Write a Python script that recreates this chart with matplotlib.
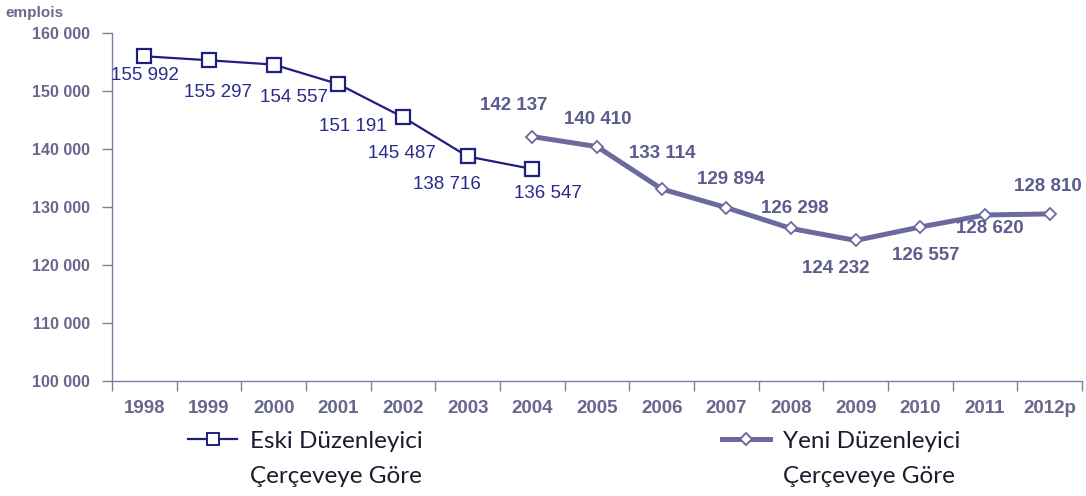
import matplotlib.pyplot as plt
from matplotlib.lines import Line2D
import numpy as np

# categories and values
years = ["1998", "1999", "2000", "2001", "2002", "2003", "2004",
         "2005", "2006", "2007", "2008", "2009", "2010", "2011", "2012p"]
old_years = years[:7]
old_vals = [155992, 155297, 154557, 151191, 145487, 138716, 136547]
new_years = years[6:]
new_vals = [142137, 140410, 133114, 129894, 126298, 124232, 126557, 128620, 128810]

# label offsets in pixels (dx, dy up)
old_off = [(1, -19), (9, -32), (20, -33), (14, -42), (-1, -36), (-21, -28), (16, -24)]
new_off = [(-19, 31), (1, 27), (1, 35), (4, 28), (4, 20), (-20, -28), (5, -29), (5, -13), (-2, 27)]

yticks = [100000, 110000, 120000, 130000, 140000, 150000, 160000]

OLD_C = '#1f1f7f'
NEW_C = '#6a6a9e'
TICK_C = '#68688e'
AX_C = '#7d7da3'

plt.rcParams['font.family'] = ['Liberation Sans', 'DejaVu Sans']

fig = plt.figure(figsize=(10.86, 4.96), dpi=100)
ax = fig.add_axes([112 / 1086, 1 - 381 / 496, (1082 - 112) / 1086, (381 - 33) / 496])

xpos = {y: i for i, y in enumerate(years)}
ox = [xpos[y] for y in old_years]
nx = [xpos[y] for y in new_years]

ax.plot(nx, new_vals, '-', color=NEW_C, lw=3.6, solid_capstyle='round', zorder=2)
ax.plot(nx, new_vals, 'D', color=NEW_C, ms=6.5, mfc='white', mec=NEW_C, mew=1.3, zorder=3)
ax.plot(ox, old_vals, '-', color=OLD_C, lw=1.6, zorder=4)
ax.plot(ox, old_vals, 's', color=OLD_C, ms=9.5, mfc='white', mec=OLD_C, mew=1.6, zorder=5)

px = 0.72  # points per pixel at dpi 100
for x, v, (dx, dy) in zip(ox, old_vals, old_off):
    ax.annotate(f"{v:,}".replace(",", " "), (x, v), xytext=(dx * px, dy * px),
                textcoords='offset points', ha='center', va='center',
                fontsize=13.5, color='#2a2a8c')
for x, v, (dx, dy) in zip(nx, new_vals, new_off):
    ax.annotate(f"{v:,}".replace(",", " "), (x, v), xytext=(dx * px, dy * px),
                textcoords='offset points', ha='center', va='center',
                fontsize=13.5, color='#5c5c8e', fontweight='bold')

ax.set_xlim(-0.5, len(years) - 0.5)
ax.set_ylim(100000, 160000)
ax.set_yticks(yticks)
ax.set_yticklabels([f"{t:,}".replace(",", " ") for t in yticks])
ax.set_xticks(range(len(years)))
ax.set_xticklabels(years)
ax.set_xticks(np.arange(-0.5, len(years)), minor=True)

for s in ['top', 'right']:
    ax.spines[s].set_visible(False)
for s in ['left', 'bottom']:
    ax.spines[s].set_color(AX_C)
    ax.spines[s].set_linewidth(1.0)

ax.tick_params(axis='y', length=7, width=1, color=AX_C, labelcolor=TICK_C,
               labelsize=11.5, pad=9)
ax.tick_params(axis='x', which='major', length=0, labelcolor=TICK_C,
               labelsize=13.5, pad=14)
ax.tick_params(axis='x', which='minor', length=7, width=1, color=AX_C)
for lab in ax.get_yticklabels() + ax.get_xticklabels():
    lab.set_fontweight('bold')

fig.text(5 / 1086, 1 - 13 / 496, "emplois", fontsize=11, color=TICK_C,
         fontweight='bold', va='center', ha='left')

# legend drawn by hand: handle on the first line, label on two lines
leg_font = ['Lato', 'DejaVu Sans']
for x0, x1, color, lw, marker, ms, line1, line2 in [
        (188, 237, OLD_C, 1.6, 's', 8, "Eski Düzenleyici", "Çerçeveye Göre"),
        (722, 770, NEW_C, 3.6, 'D', 6, "Yeni Düzenleyici", "Çerçeveye Göre")]:
    yh = 1 - 439 / 496
    fig.add_artist(Line2D([x0 / 1086, x1 / 1086], [yh, yh], color=color, lw=lw,
                          transform=fig.transFigure))
    fig.add_artist(Line2D([(x0 + x1) / 2 / 1086], [yh], marker=marker, ms=ms,
                          mfc='white', mec=color, mew=1.4, ls='none',
                          transform=fig.transFigure))
    fig.text((x1 + 13) / 1086, 1 - 448 / 496, line1, fontsize=17.5, color='#1c1c2c',
             family=leg_font, va='baseline', ha='left')
    fig.text((x1 + 13) / 1086, 1 - 483 / 496, line2, fontsize=17.5, color='#1c1c2c',
             family=leg_font, va='baseline', ha='left')

fig.savefig("out.png", dpi=100)
